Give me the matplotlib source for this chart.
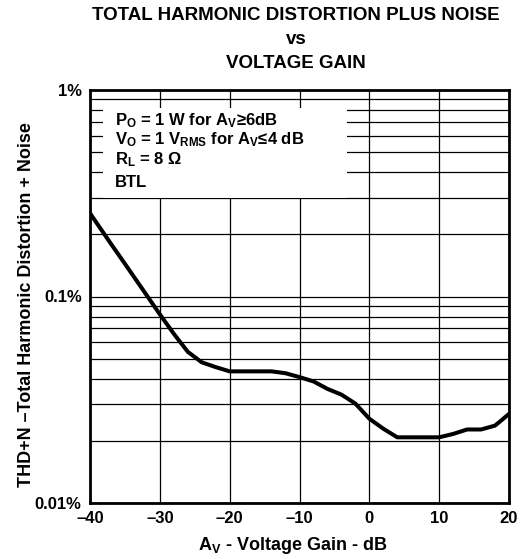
import numpy as np
import matplotlib
matplotlib.use("Agg")
import matplotlib.pyplot as plt
from matplotlib.ticker import FixedLocator, NullFormatter
from matplotlib.patches import Rectangle

plt.rcParams['font.family'] = ['Liberation Sans', 'DejaVu Sans']
plt.rcParams['font.weight'] = 'bold'
plt.rcParams['mathtext.fontset'] = 'custom'
plt.rcParams['mathtext.rm'] = 'Liberation Sans:bold'
plt.rcParams['mathtext.bf'] = 'Liberation Sans:bold'
plt.rcParams['mathtext.it'] = 'Liberation Sans:bold'

# Data (THD+N in %, vs voltage gain in dB)
gain_db = [-40, -37, -35, -33, -30, -28, -26, -24, -22, -20, -17, -14, -12, -10,
           -8, -6, -4, -2, 0, 2, 4, 6, 8, 10, 12, 14, 16, 18, 20]
thd_pct = [0.253, 0.180, 0.144, 0.115, 0.082, 0.066, 0.054, 0.048, 0.0455, 0.0434,
           0.0434, 0.0434, 0.0425, 0.0407, 0.0388, 0.0357, 0.0335, 0.0303, 0.0256,
           0.0229, 0.0208, 0.0208, 0.0208, 0.0208, 0.0216, 0.0227, 0.0227, 0.0237, 0.027]

x_ticks = [-40, -30, -20, -10, 0, 10, 20]
x_ticklabels = ['\u201340', '\u201330', '\u201320', '\u201310', '0', '10', '20']
y_ticks = [0.01, 0.1, 1]
y_ticklabels = ['0.01%', '0.1%', '1%']

note_lines = ["P$_\\mathregular{O}$ = 1 W for A$_\\mathregular{V}$\u22656dB",
              "V$_\\mathregular{O}$ = 1 V$_\\mathregular{RMS}$ for A$_\\mathregular{V}$\u22644 dB",
              "R$_\\mathregular{L}$ = 8 \u03a9",
              "BTL"]

fig = plt.figure(figsize=(5.24, 5.59), dpi=100)
ax = fig.add_axes([90/524, 1 - 503/559, (509-90)/524, (503-90)/559])

ax.set_yscale('log')
ax.set_xlim(-40, 20)
ax.set_ylim(0.01, 1)

minor = [m * 10.0**e for e in (-2, -1) for m in range(2, 10)]
ax.yaxis.set_minor_locator(FixedLocator(minor))
ax.yaxis.set_minor_formatter(NullFormatter())
ax.set_yticks(y_ticks)
ax.set_yticklabels(y_ticklabels)
ax.set_xticks(x_ticks)
ax.set_xticklabels(x_ticklabels)
ax.grid(True, which='both', axis='y', color='black', linewidth=0.9)
ax.grid(True, which='major', axis='x', color='black', linewidth=0.9)
ax.set_axisbelow(True)
ax.tick_params(which='both', length=0, labelsize=12, pad=6)
for lab in ax.get_xticklabels() + ax.get_yticklabels():
    lab.set_fontweight('bold')

for s in ax.spines.values():
    s.set_linewidth(2)
    s.set_zorder(5)

ax.plot(gain_db, thd_pct, color='black', linewidth=2.9, solid_joinstyle='round', zorder=3)

# white panel behind the notes
ax.add_patch(Rectangle((0.031, 0.739), 0.582, 0.217, transform=ax.transAxes,
                       facecolor='white', edgecolor='none', zorder=2.5))
for yy, line in zip([0.915, 0.868, 0.820, 0.765], note_lines):
    ax.text(0.060, yy, line, transform=ax.transAxes, ha='left', va='baseline',
            fontsize=12, fontweight='bold', zorder=4)

fig.text(296/524, 1 - 15/559, "TOTAL HARMONIC DISTORTION PLUS NOISE", ha='center', va='center',
         fontsize=13.5, fontweight='bold')
fig.text(296/524, 1 - 40/559, "vs", ha='center', va='center', fontsize=13.5, fontweight='bold')
fig.text(296/524, 1 - 63/559, "VOLTAGE GAIN", ha='center', va='center', fontsize=13.5, fontweight='bold')

fig.text(293/524, 1 - 546/559, "A$_\\mathregular{V}$ - Voltage Gain - dB", ha='center', va='center',
         fontsize=13, fontweight='bold')
fig.text(27/524, 1 - 305/559, "THD+N \u2013Total Harmonic Distortion + Noise", ha='center', va='center',
         rotation=90, fontsize=13, fontweight='bold')

fig.savefig("out.png", dpi=100)
